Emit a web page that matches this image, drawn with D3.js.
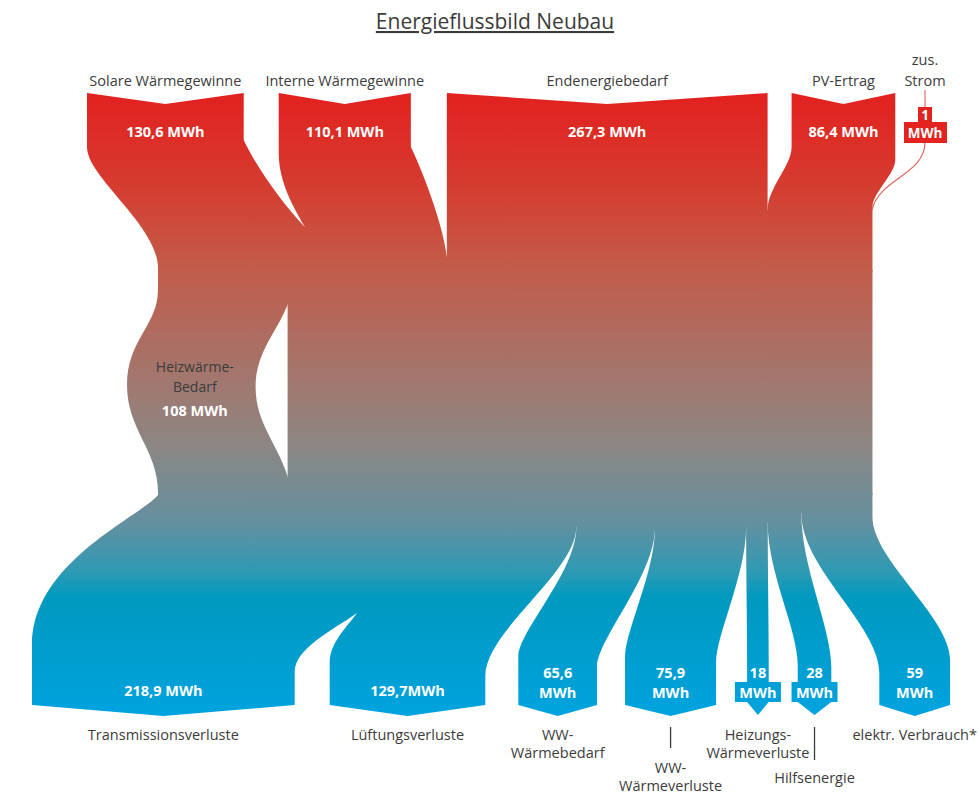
<!DOCTYPE html>
<html>
<head>
<meta charset="utf-8">
<script src="https://cdnjs.cloudflare.com/ajax/libs/d3/7.8.5/d3.min.js"></script>
<style>
  body { margin: 0; background: #fff; }
  text { font-family: "Open Sans", sans-serif; }
</style>
</head>
<body>
<svg id="chart" width="979" height="795"></svg>
<script>
// --- data: inputs (top) ---
var inNames = [["Solare Wärmegewinne"], ["Interne Wärmegewinne"], ["Endenergiebedarf"], ["PV-Ertrag"], ["zus.", "Strom"]];
var inValues = [130.6, 110.1, 267.3, 86.4, 1];
var inLabels = [["130,6 MWh"], ["110,1 MWh"], ["267,3 MWh"], ["86,4 MWh"], ["1", "MWh"]];

// --- data: outputs (bottom) ---
var outNames = [["Transmissionsverluste"], ["Lüftungsverluste"], ["WW-", "Wärmebedarf"], ["WW-", "Wärmeverluste"],
                ["Heizungs-", "Wärmeverluste"], ["Hilfsenergie"], ["elektr. Verbrauch*"]];
var outValues = [218.9, 129.7, 65.6, 75.9, 18, 28, 59];
var outLabels = [["218,9 MWh"], ["129,7MWh"], ["65,6", "MWh"], ["75,9", "MWh"], ["18", "MWh"], ["28", "MWh"], ["59", "MWh"]];

// --- data: internal loop ---
var heatName = ["Heizwärme-", "Bedarf"];
var heatValue = 108;
var heatLabel = "108 MWh";

var svg = d3.select("#chart");

// MWh -> pixel width
var w = d3.scaleLinear().domain([0, 100]).range([0, 120]);

// layout
var topY = 93, notch = 11;
var inX0 = 87, inGap = [0, 35, 36, 24];
var outX0 = 32, outGap = [0, 35, 33, 28, 31, 29, 48];
var bodyL = 158, bodyTop = 270, bodyBot = 495;
var bodyR = bodyL + w(d3.sum(inValues));

// vertical colour gradient (red -> grey -> blue)
var grad = svg.append("defs").append("linearGradient")
    .attr("id", "flow")
    .attr("gradientUnits", "userSpaceOnUse")
    .attr("x1", 0).attr("y1", 93).attr("x2", 0).attr("y2", 716);
[[0, "#e2211f"], [0.14, "#d63a2e"], [0.27, "#c45a48"], [0.46, "#a2776e"], [0.57, "#8b8785"],
 [0.69, "#64909f"], [0.77, "#2d9ab4"], [0.81, "#0099bf"], [1, "#00a3df"]].forEach(function(s) {
  grad.append("stop").attr("offset", s[0]).attr("stop-color", s[1]);
});

// node positions
var inNodes = [], x = inX0, b = bodyL;
inValues.forEach(function(v, i) {
  if (i < 4) {
    x += inGap[i];
    inNodes.push({x0: x, x1: x + w(v), b0: b, b1: b + w(v)});
    x += w(v);
  }
  b += w(v);
});

var outNodes = [];
x = outX0; b = bodyL;
outValues.forEach(function(v, i) {
  x += outGap[i];
  outNodes.push({x0: x, x1: x + w(v), b0: b, b1: b + w(v)});
  x += w(v);
  b += w(v);
});

// edge shapes: y = where node side stops being vertical, ty = tip y, dx = tip shift
var inEdges = [
  {L: {y: 147, ty: 268, a: .25, b: .35}, R: {y: 140, ty: 227, dx: -10, a: .3, tt: .2, b: .3, tb: .4}},
  {L: {y: 153, ty: 227, dx: -10, a: .4, b: .25, tb: .4}, R: {y: 147, ty: 257, a: .2, tt: .3, b: .3, tb: .1}},
  {L: {y: 257, ty: 257}, R: {y: 210, ty: 210}},
  {L: {y: 147, ty: 210, a: .3, b: .35}, R: {y: 160, ty: 207, dx: w(inValues[4]), a: .3, b: .3}}
];
var outEdges = [
  {L: {y: 645, ty: 495, a: .15, tt: .15, b: .55}, R: {y: 672, ty: 613, dx: -63.7, a: .3, tt: .4, b: .4}},
  {L: {y: 663, ty: 613, dx: -63.7, a: .3, tt: .4, b: .4}, R: {y: 676, ty: 527, a: .3, b: .3}},
  {L: {y: 657, ty: 527, a: .35, b: .2}, R: {y: 667, ty: 527, a: .35, b: .2}},
  {L: {y: 657, ty: 527, a: .35, b: .2}, R: {y: 662, ty: 527, a: .35, b: .2}},
  {L: {y: 665, ty: 527, a: .3, b: .3}, R: {y: 665, ty: 523, a: .3, b: .3}},
  {L: {y: 665, ty: 523, a: .35, b: .25}, R: {y: 667, ty: 513, a: .35, b: .25}},
  {L: {y: 673, ty: 513, a: .35, b: .3}, R: {y: 660, ty: 517, a: .3, b: .3}}
];

// cubic from upper point to lower point (or back when reverse)
function addCurve(p, from, to, e, reverse) {
  var dx = to[0] - from[0], h = to[1] - from[1];
  var c1 = [from[0] + (e.tt || 0) * dx, from[1] + (e.a || 0) * h];
  var c2 = [to[0] - (e.tb || 0) * dx, to[1] - (e.b || 0) * h];
  if (!reverse) p.bezierCurveTo(c1[0], c1[1], c2[0], c2[1], to[0], to[1]);
  else p.bezierCurveTo(c2[0], c2[1], c1[0], c1[1], from[0], from[1]);
}

var g = svg.append("g");
function fill(p) {
  g.append("path").attr("d", p.toString()).attr("fill", "url(#flow)");
}

// input bands
inNodes.forEach(function(n, i) {
  var e = inEdges[i], p = d3.path();
  var lt = [n.b0 + (e.L.dx || 0), e.L.ty], rt = [n.b1 + (e.R.dx || 0), e.R.ty];
  var ovL = i > 0 ? 2 : 0, ovR = i < inNodes.length - 1 ? 2 : 0;
  p.moveTo(n.x0, topY);
  p.lineTo((n.x0 + n.x1) / 2, topY + notch);
  p.lineTo(n.x1, topY);
  p.lineTo(n.x1, e.R.y);
  addCurve(p, [n.x1, e.R.y], rt, e.R, false);
  p.lineTo(rt[0] + ovR, rt[1] + 3);
  p.lineTo(rt[0] + ovR, bodyTop + 2);
  p.lineTo(lt[0] - ovL, bodyTop + 2);
  p.lineTo(lt[0] - ovL, lt[1] + 3);
  p.lineTo(lt[0], lt[1]);
  addCurve(p, [n.x0, e.L.y], lt, e.L, true);
  p.closePath();
  fill(p);
});

// body
var hx0 = bodyL, hx1 = bodyL + w(heatValue);
var bp = d3.path();
bp.rect(hx1, bodyTop, bodyR - hx1, bodyBot - bodyTop);
fill(bp);

// heizwärme loop on the left
var hp = d3.path();
hp.moveTo(hx0, bodyTop);
hp.lineTo(hx1 + 2, bodyTop);
hp.lineTo(hx1 + 2, 299);
hp.bezierCurveTo(hx1 - 8, 330, hx1 - 32, 350, hx1 - 32, 387);
hp.bezierCurveTo(hx1 - 32, 425, hx1 - 8, 445, hx1 + 2, 483);
hp.lineTo(hx1 + 2, bodyBot);
hp.lineTo(hx0, bodyBot);
hp.lineTo(hx0, 492);
hp.bezierCurveTo(hx0, 450, hx0 - 31, 430, hx0 - 31, 385);
hp.bezierCurveTo(hx0 - 31, 340, hx0, 325, hx0, 290);
hp.closePath();
fill(hp);

// output bands
var last = outNodes.length - 1;
outNodes.forEach(function(n, i) {
  var e = outEdges[i], p = d3.path();
  var lt = [i === 0 ? bodyL : n.b0 + (e.L.dx || 0), e.L.ty];
  var rt = [i === last ? bodyR : n.b1 + (e.R.dx || 0), e.R.ty];
  var ovL = i > 0 ? 2 : 0, ovR = i < last ? 2 : 0;
  var arrow = n.x1 - n.x0 < 40, cx = (n.x0 + n.x1) / 2;
  p.moveTo(lt[0], lt[1]);
  p.lineTo(lt[0] - ovL, lt[1] - 3);
  p.lineTo(lt[0] - ovL, bodyBot - 2);
  p.lineTo(rt[0] + ovR, bodyBot - 2);
  p.lineTo(rt[0] + ovR, rt[1] - 3);
  p.lineTo(rt[0], rt[1]);
  addCurve(p, rt, [n.x1, e.R.y], e.R, false);
  p.lineTo(n.x1, arrow ? 702 : 705);
  p.lineTo(cx, arrow ? 715 : 716);
  p.lineTo(n.x0, arrow ? 702 : 705);
  p.lineTo(n.x0, e.L.y);
  addCurve(p, lt, [n.x0, e.L.y], e.L, true);
  p.closePath();
  fill(p);
  if (arrow) {
    g.append("rect").attr("x", cx - 23).attr("y", 682).attr("width", 46).attr("height", 20)
      .attr("fill", "url(#flow)");
  }
});

// zus. Strom: small box with thin lines
var sx = 925;
svg.append("line").attr("x1", sx).attr("x2", sx).attr("y1", 90).attr("y2", 108)
  .attr("stroke", "#e2504a").attr("stroke-width", 1);
svg.append("path")
  .attr("d", "M" + sx + ",142 C" + sx + ",175 " + (bodyR + 7) + ",178 " + (bodyR - 0.5) + ",210")
  .attr("fill", "none").attr("stroke", "#e0645c").attr("stroke-width", w(inValues[4]));
svg.append("rect").attr("x", sx - 7).attr("y", 107).attr("width", 14).attr("height", 16).attr("fill", "#e2231f");
svg.append("rect").attr("x", sx - 21).attr("y", 122).attr("width", 43).attr("height", 21).attr("fill", "#e2231f");

// --- text ---
var nameColor = "#3c3c3c";

svg.append("text")
  .attr("x", 495).attr("y", 29)
  .attr("text-anchor", "middle")
  .attr("font-size", 21)
  .attr("fill", nameColor)
  .attr("text-decoration", "underline")
  .text("Energieflussbild Neubau");

function lines(sel, arr, x, y0, dy, size, color, weight) {
  arr.forEach(function(s, j) {
    sel.append("text")
      .attr("x", x).attr("y", y0 + j * dy)
      .attr("text-anchor", "middle")
      .attr("font-size", size)
      .attr("font-weight", weight || "normal")
      .attr("fill", color)
      .text(s);
  });
}

// top names and values
inNames.forEach(function(nm, i) {
  var cx = i < 4 ? (inNodes[i].x0 + inNodes[i].x1) / 2 : sx;
  var y0 = nm.length > 1 ? 65 : 86;
  lines(svg, nm, cx, y0, 21, 14.5, nameColor);
  if (i < 4) lines(svg, inLabels[i], cx, 137, 18, 14.5, "#fff", "bold");
  else lines(svg, inLabels[i], cx, 120, 18, 13.5, "#fff", "bold");
});

// heizwärme loop text
var hcx = (hx0 + hx1) / 2 - 28;
lines(svg, heatName, hcx, 372, 20, 14, nameColor);
lines(svg, [heatLabel], hcx, 416, 18, 14.5, "#fff", "bold");

// bottom values and names
var nameY = [740, 740, 740, 773, 740, 783, 740];
var leader = {3: [727, 748], 5: [727, 760]};
outNodes.forEach(function(n, i) {
  var cx = (n.x0 + n.x1) / 2;
  var lab = outLabels[i];
  lines(svg, lab, cx, lab.length > 1 ? 678 : 696, 20, 14.5, "#fff", "bold");
  lines(svg, outNames[i], cx, nameY[i], 18, 14.5, nameColor);
  if (leader[i]) {
    svg.append("line").attr("x1", cx).attr("x2", cx)
      .attr("y1", leader[i][0]).attr("y2", leader[i][1])
      .attr("stroke", nameColor).attr("stroke-width", 1.3);
  }
});
</script>
</body>
</html>
